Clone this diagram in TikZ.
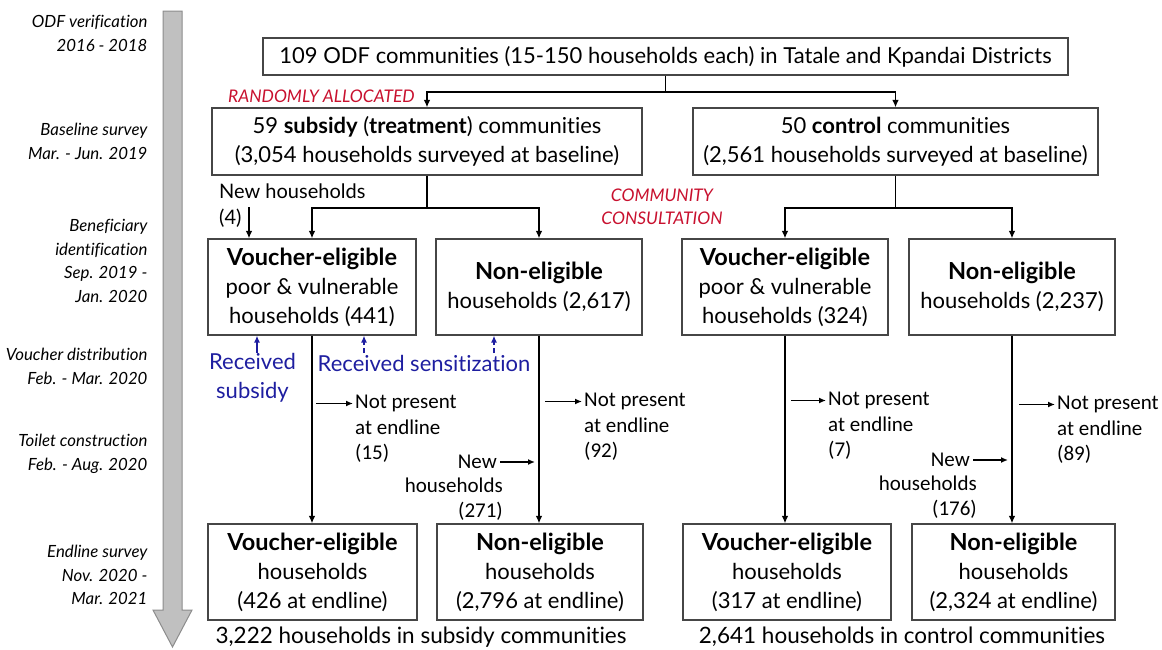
\documentclass[tikz,border=0pt]{standalone}
\usepackage{fontspec}
\setmainfont{Lato}[Ligatures=NoCommon]
\newfontfamily\calfont{Carlito}
\usetikzlibrary{arrows.meta}
\definecolor{boxc}{RGB}{70,70,70}
\definecolor{redc}{RGB}{200,16,46}
\definecolor{bluec}{RGB}{30,30,160}
\definecolor{tlfill}{RGB}{192,192,192}
\definecolor{tldraw}{RGB}{140,140,140}
\newcommand{\bx}[1]{{\fontsize{23.5}{29}\selectfont\bfseries #1}}
\tikzset{
  box/.style={draw=boxc, line width=1.1pt, inner sep=0pt, align=center, font=\fontsize{22}{29}\selectfont},
  conn/.style={line width=1.9pt, -{Latex[length=7.5pt,width=6.5pt]}},
  sconn/.style={line width=1.5pt, -{Latex[length=7pt,width=6pt]}},
  bconn/.style={bluec, line width=1.4pt, -{Latex[length=7pt,width=6pt]}},
  tl/.style={anchor=east, align=right, font=\fontsize{16.8}{23.5}\selectfont\itshape},
  redlbl/.style={redc, font=\fontsize{17.4}{23}\selectfont\itshape, align=center},
  bluelbl/.style={bluec, font=\fontsize{22}{29}\selectfont, align=center},
  side/.style={font=\calfont\fontsize{21}{25.5}\selectfont, inner sep=0pt},
}
\begin{document}
\begin{tikzpicture}[x=1pt,y=-1pt]
\useasboundingbox (0,0) rectangle (1162,649);
% timeline arrow
\draw[fill=tlfill, draw=tldraw, line width=1pt] (163,11) -- (182,11) -- (182,610) -- (192,610) -- (172.5,647) -- (153,610) -- (163,610) -- cycle;
\node[tl] (t1) at (151,33.5) {ODF verification\\2016 - 2018};
\node[tl] (t2) at (151,141.5) {Baseline survey\\Mar. - Jun. 2019};
\node[tl] (t3) at (151,261) {Beneficiary\\identification\\Sep. 2019 -\\Jan. 2020};
\node[tl] (t4) at (151,366.5) {Voucher distribution\\Feb. - Mar. 2020};
\node[tl] (t5) at (151,454) {Toilet construction\\Feb. - Aug. 2020};
\node[tl] (t6) at (151,575) {Endline survey\\Nov. 2020 -\\Mar. 2021};
% boxes
\node[box, minimum width=805, minimum height=37] (top) at (665.5,56.5) {109 ODF communities (15-150 households each) in Tatale and Kpandai Districts};
\node[box, minimum width=430, minimum height=67] (sub) at (427,141.5) {59 \textbf{subsidy} (\textbf{treatment}) communities\\(3,054 households surveyed at baseline)};
\node[box, minimum width=405, minimum height=67] (ctl) at (895.5,141.5) {50 \textbf{control} communities\\(2,561 households surveyed at baseline)};
\node[box, minimum width=208, minimum height=96] (ves) at (312,287) {\bx{Voucher-eligible}\\poor \& vulnerable\\households (441)};
\node[box, minimum width=206, minimum height=96] (nes) at (539,287) {\bx{Non-eligible}\\households (2,617)};
\node[box, minimum width=206, minimum height=96] (vec) at (785,287) {\bx{Voucher-eligible}\\poor \& vulnerable\\households (324)};
\node[box, minimum width=206, minimum height=96] (nec) at (1012,287) {\bx{Non-eligible}\\households (2,237)};
\node[box, minimum width=209, minimum height=96] (vesE) at (312.5,572) {\bx{Voucher-eligible}\\households\\(426 at endline)};
\node[box, minimum width=206, minimum height=96] (nesE) at (540,572) {\bx{Non-eligible}\\households\\(2,796 at endline)};
\node[box, minimum width=208, minimum height=96] (vecE) at (787,572) {\bx{Voucher-eligible}\\households\\(317 at endline)};
\node[box, minimum width=203, minimum height=96] (necE) at (1013.5,572) {\bx{Non-eligible}\\households\\(2,324 at endline)};
% captions
\node[font=\fontsize{22.5}{24}\selectfont] (capS) at (421,637) {3,222 households in subsidy communities};
\node[font=\fontsize{22.5}{24}\selectfont] (capC) at (902,637) {2,641 households in control communities};
% red labels
\node[redlbl, anchor=west, inner sep=0pt] (rand) at (228,96) {RANDOMLY ALLOCATED};
\node[redlbl] (cons) at (662,206.5) {COMMUNITY\\CONSULTATION};
% top connectors
\draw[conn] (top.south) -- ++(0,16) coordinate (j1) -| (sub.north);
\draw[conn] (j1) -| (ctl.north);
\draw[conn] (sub.south) -- ++(0,32) coordinate (j2) -| (ves.north);
\draw[conn] (j2) -| (nes.north);
\draw[conn] (ctl.south) -- ++(0,32) coordinate (j3) -| (vec.north);
\draw[conn] (j3) -| (nec.north);
% new households (4)
\node[font=\fontsize{20}{26}\selectfont, anchor=west, align=left, inner sep=0pt] (nh4) at (219,205.5) {New households\\(4)};
\coordinate (n4) at (249,207);
\draw[conn] (n4) -- (n4 |- ves.north);
% verticals
\draw[conn] (ves.south) -- (ves.south |- vesE.north);
\draw[conn] (nes.south) -- (nes.south |- nesE.north);
\draw[conn] (vec.south) -- (vec.south |- vecE.north);
\draw[conn] (nec.south) -- (nec.south |- necE.north);
% blue labels
\node[bluelbl] (rsub) at (252.5,377.5) {Received\\subsidy};
\node[bluelbl] (rsen) at (424,363) {Received sensitization};
\coordinate (b1) at (257,353);
\coordinate (b2) at (364,353);
\coordinate (b3) at (494,353);
\draw[bconn] (b1) -- (b1 |- ves.south);
\draw[bconn, dash pattern=on 5pt off 3pt] (b2) -- (b2 |- ves.south);
\draw[bconn, dash pattern=on 5pt off 3pt] (b3) -- (b3 |- nes.south);
% not present side arrows
\node[side, anchor=west, align=left] (np1) at (355,429) {Not present\\at endline\\(15)};
\coordinate (a1) at (316,403.5);
\draw[sconn] (a1) -- ([xshift=-2pt]a1 -| np1.west);
\node[side, anchor=west, align=left] (np2) at (584,427) {Not present\\at endline\\(92)};
\coordinate (a2) at (545,401.5);
\draw[sconn] (a2) -- ([xshift=-2pt]a2 -| np2.west);
\node[side, anchor=west, align=left] (np3) at (828,426) {Not present\\at endline\\(7)};
\coordinate (a3) at (791,400.5);
\draw[sconn] (a3) -- ([xshift=-2pt]a3 -| np3.west);
\node[side, anchor=west, align=left] (np4) at (1057,430) {Not present\\at endline\\(89)};
\coordinate (a4) at (1019,404.5);
\draw[sconn] (a4) -- ([xshift=-2pt]a4 -| np4.west);
% new households side
\node[side, anchor=east, align=right] (nw1) at (503,487) {\phantom{New}\\households\\(271)};
\node[side, anchor=east] (nwl1) at (497,462) {New};
\coordinate (c1) at ([xshift=3pt]nwl1.east);
\draw[sconn] (c1) -- ([xshift=-4pt]c1 -| nes.south);
\node[side, anchor=east, align=right] (nw2) at (977,485) {\phantom{New}\\households\\(176)};
\node[side, anchor=east] (nwl2) at (970,460) {New};
\coordinate (c2) at ([xshift=3pt]nwl2.east);
\draw[sconn] (c2) -- ([xshift=-4pt]c2 -| nec.south);
\end{tikzpicture}
\end{document}
